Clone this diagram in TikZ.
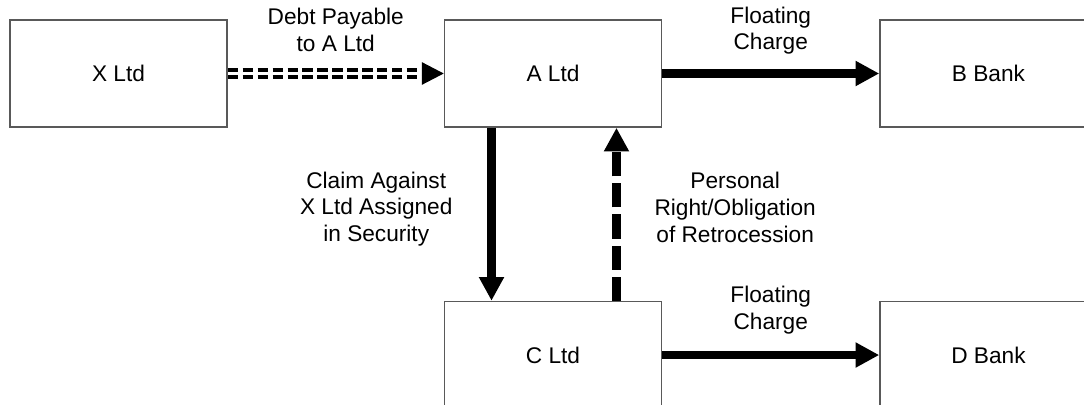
\documentclass[tikz,border=0pt]{standalone}
\usepackage{fontspec}
\setmainfont{Liberation Sans}
\usepackage{tikz}
\usetikzlibrary{arrows.meta,positioning,decorations.markings}

\begin{document}
\begin{tikzpicture}[thick, x=0.02cm, y=-0.02cm,
    font=\fontsize{12.9}{15.2}\selectfont]
    % `party' is used for the companies and banks (boxes).
    % `heavy' and `retro' are the thick solid and dashed arrows.
    % `debt' is the double dashed arrow, `lbl' the arrow captions.
    \tikzstyle{party} = [draw=black!65, line width=0.9pt, minimum width=4.34cm, minimum height=2.14cm]
    \tikzstyle{heavy} = [line width=4.6pt, -{Triangle[length=13.5pt,width=13.5pt]}]
    \tikzstyle{retro} = [heavy, dash pattern=on 13.7pt off 4pt]
    \tikzstyle{debt} = [draw=none,
      postaction={draw, line width=1.9pt, dash pattern=on 5.9pt off 2.6pt,
        shorten >=12pt, transform canvas={yshift=1.9pt}},
      postaction={draw, line width=1.9pt, dash pattern=on 5.9pt off 2.6pt,
        shorten >=12pt, transform canvas={yshift=-1.9pt}},
      postaction={decorate, decoration={markings,
        mark=at position 1 with {\arrow{Triangle[length=12.5pt,width=12.8pt]}}}}]
    \tikzstyle{lbl} = [align=center, inner sep=0pt]
    %
    \useasboundingbox (0,0) rectangle (1084,405);
    \clip (0,0) rectangle (1084,405);
    %
    \node[party] (xltd) at (118.5,73.5) {X Ltd};
    \node[party, right=4.32cm of xltd] (altd) {A Ltd};
    \node[party, right=4.34cm of altd] (bbank) {B Bank};
    \node[party, below=3.46cm of altd] (cltd) {C Ltd};
    \node[party, right=4.34cm of cltd] (dbank) {D Bank};
    %
    % Draw arrows.
    \path[debt] (xltd) -- (altd)
      node[lbl, midway, above=0.42cm, text=black] (debtlbl) {Debt Payable\\to A Ltd};
    \draw[heavy] (altd) -- (bbank)
      node[lbl, midway, above=0.30cm] (chargeb) {Floating\\Charge};
    \draw[heavy] ([xshift=-1.23cm]altd.south) -- ([xshift=-1.23cm]cltd.north)
      node[lbl, pos=0.47, left=0.70cm] (claim) {Claim Against\\X Ltd Assigned\\in Security};
    \draw[retro] ([xshift=1.27cm]cltd.north) -- ([xshift=1.27cm]altd.south)
      node[lbl, pos=0.54, right=0.68cm] (retrolbl) {Personal\\Right/Obligation\\of Retrocession};
    \draw[heavy] (cltd) -- (dbank)
      node[lbl, midway, above=0.34cm] (charged) {Floating\\Charge};
\end{tikzpicture}
\end{document}
